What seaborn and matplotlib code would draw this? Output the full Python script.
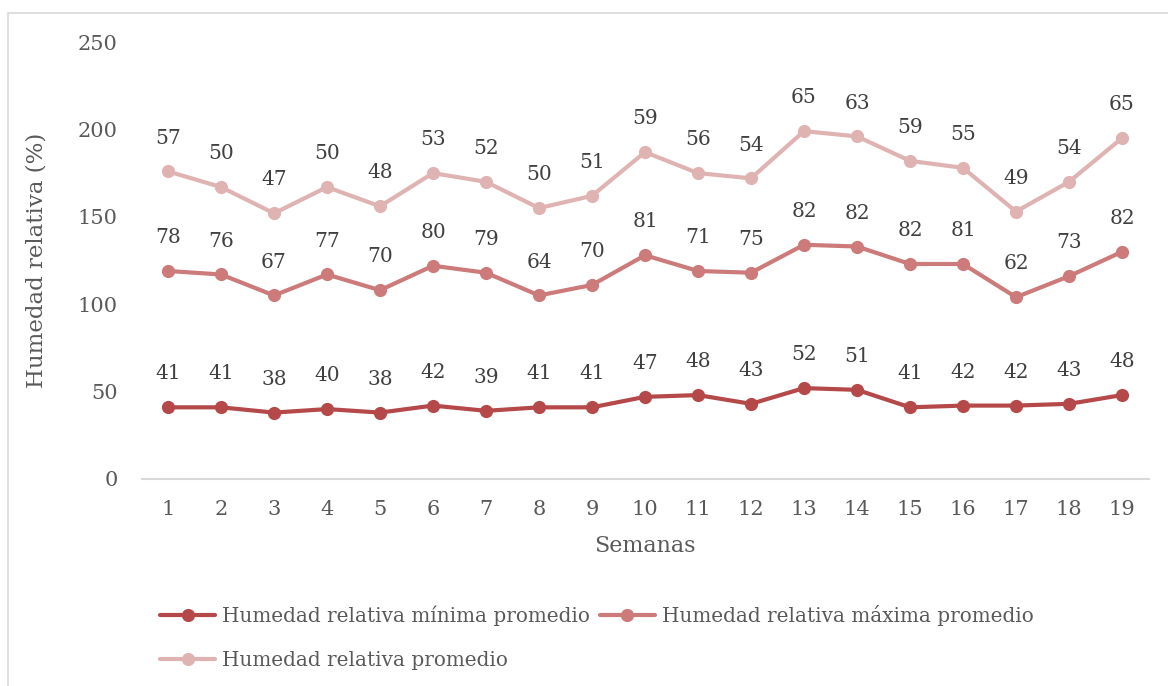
import numpy as np
import pandas as pd
import matplotlib
matplotlib.use("Agg")
import matplotlib.pyplot as plt
import seaborn as sns
from matplotlib.patches import Rectangle

weeks = list(range(1, 20))
hr_min = [41, 41, 38, 40, 38, 42, 39, 41, 41, 47, 48, 43, 52, 51, 41, 42, 42, 43, 48]
hr_max = [78, 76, 67, 77, 70, 80, 79, 64, 70, 81, 71, 75, 82, 82, 82, 81, 62, 73, 82]
hr_avg = [57, 50, 47, 50, 48, 53, 52, 50, 51, 59, 56, 54, 65, 63, 59, 55, 49, 54, 65]
series_names = ["Humedad relativa mínima promedio",
                "Humedad relativa máxima promedio",
                "Humedad relativa promedio"]
colors = ["#B5494A", "#CC7A7A", "#E0B3B3"]

sns.set_theme(style="white")
plt.rcParams['font.family'] = ['DejaVu Serif']

# stacked line chart (Excel "stacked line")
raw = [hr_min, hr_max, hr_avg]
cum = np.cumsum(np.array(raw), axis=0)

fig = plt.figure(figsize=(11.68, 6.86), dpi=100)
fig.patch.set_facecolor("white")
# outer chart border (left/top visible)
fig.add_artist(Rectangle((8/1168, -0.05), 1.2, 1 - 13/686 + 0.05, transform=fig.transFigure,
                         fill=False, edgecolor="#D9D9D9", linewidth=1.2))

ax = fig.add_axes([141.5/1168, 1 - 479/686, (1148.5 - 141.5)/1168, (479 - 42)/686])

for i, name in enumerate(series_names):
    df = pd.DataFrame({"Semana": weeks, "valor": cum[i]})
    sns.lineplot(data=df, x="Semana", y="valor", ax=ax, color=colors[i], linewidth=3.0,
                 marker="o", markersize=9.5, markeredgewidth=0, label=name)
    for w, yv, lab in zip(weeks, cum[i], raw[i]):
        ax.annotate(str(lab), (w, yv), xytext=(0, 24), textcoords="offset points",
                    ha="center", va="center", fontsize=14.5, color="#404040")

ax.set_xlim(0.5, 19.5)
ax.set_ylim(0, 250)
ax.set_yticks([0, 50, 100, 150, 200, 250])
ax.set_xticks(weeks)
ax.set_xticklabels([str(w) for w in weeks])
ax.tick_params(axis="both", length=0, labelsize=15, labelcolor="#595959")
ax.tick_params(axis="y", pad=17)
ax.tick_params(axis="x", pad=15)
for s in ["top", "right", "left"]:
    ax.spines[s].set_visible(False)
ax.spines["bottom"].set_color("#D9D9D9")
ax.spines["bottom"].set_linewidth(1.5)
ax.grid(False)
ax.set_xlabel("Semanas", fontsize=16, color="#595959", labelpad=12)
ax.set_ylabel("Humedad relativa (%)", fontsize=16.5, color="#595959")
ax.yaxis.set_label_coords((48 - 141.5) / 1007, 0.5)
ax.set_facecolor("white")

h, l = ax.get_legend_handles_labels()
ax.get_legend().remove()
order = [0, 2, 1]
fig.legend([h[k] for k in order], [l[k] for k in order], ncol=2,
           loc="upper left", bbox_to_anchor=(142/1168, 1 - 587/686),
           frameon=False, fontsize=14.4, handlelength=2.75, handletextpad=0.35,
           columnspacing=0.5, labelspacing=1.25, labelcolor="#595959")

fig.savefig("out.png", dpi=100, facecolor="white")
